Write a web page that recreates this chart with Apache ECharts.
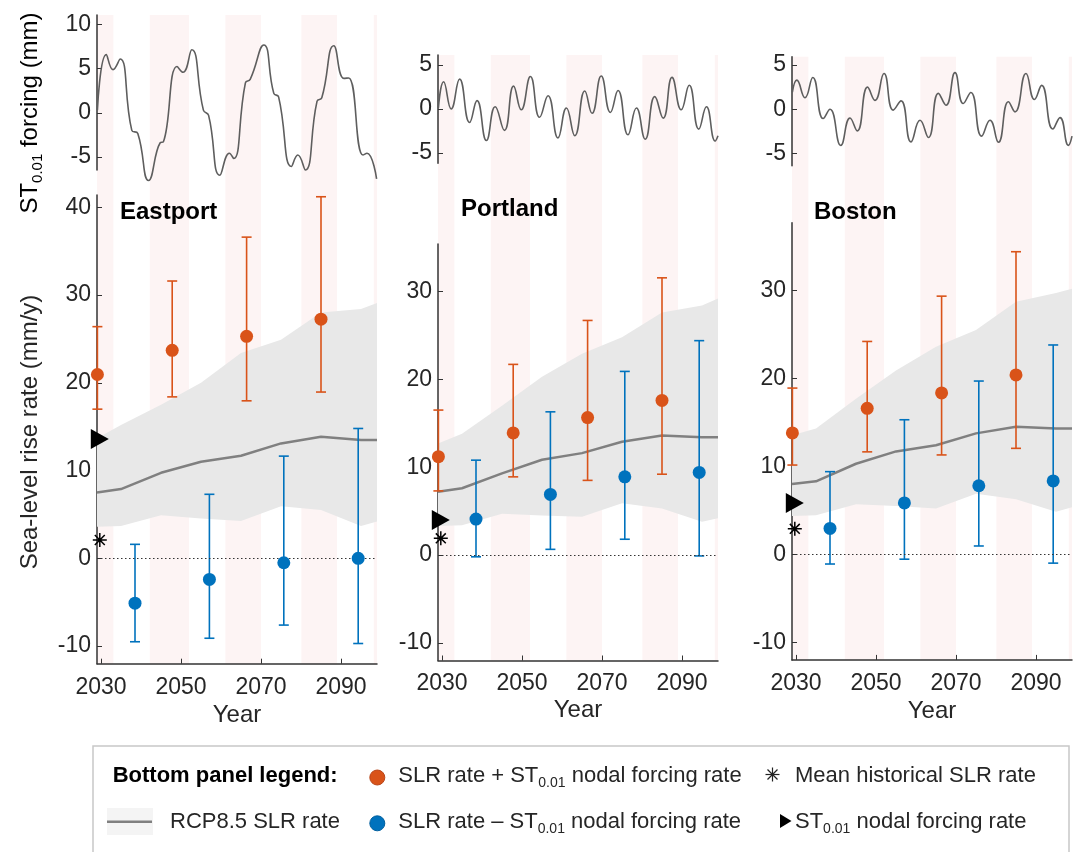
<!DOCTYPE html>
<html>
<head>
<meta charset="utf-8">
<script src="https://cdn.jsdelivr.net/npm/echarts@6/dist/echarts.min.js"></script>
<style>
html, body { margin: 0; padding: 0; background: #fff; }
#chart { width: 1084px; height: 852px; }
</style>
</head>
<body>
<div id="chart"></div>
<script>
// pink shading: half nodal cycles
const stripeSpans = [[2029, 2033.1], [2042.2, 2052], [2061.1, 2070], [2080.1, 2089], [2098.2, 2099]];
const yearTicks = [2030, 2050, 2070, 2090];
const bandYears = [2029, 2035, 2045, 2055, 2065, 2075, 2085, 2095, 2099];
const plusYears = [2029.1, 2047.8, 2066.4, 2085.0];
const minusYears = [2038.5, 2057.1, 2075.7, 2094.3];
const markerYear = 2029.7;
const siteNames = ['Eastport', 'Portland', 'Boston'];

// ---- Eastport ----
const eastportForcingYears = [2029.1, 2031.3, 2033.0, 2034.8, 2037.7, 2039.2, 2041.9, 2044.8, 2045.6, 2049.0, 2050.5, 2052.7, 2055.6, 2056.9, 2059.7, 2062.1, 2063.2, 2066.1, 2067.3, 2070.7, 2073.2, 2074.4, 2077.6, 2079.2, 2081.1, 2084.0, 2085.2, 2088.2, 2090.7, 2091.9, 2095.5, 2096.5, 2098.9];
const eastportForcing = [0.3, 6.6, 4.9, 6.1, -2.0, -2.35, -7.7, -3.4, -3.3, 5.25, 4.6, 7.15, 0.3, -0.3, -7.1, -4.6, -5.2, 3.4, 3.8, 7.7, 2.2, 1.8, -6.1, -4.8, -6.5, 1.3, 1.7, 7.6, 3.9, 3.95, -4.8, -4.6, -7.5];
const eastportRcp = [7.5, 7.9, 9.75, 11.0, 11.7, 13.1, 13.85, 13.5, 13.5];
const eastportBandHigh = [13.7, 15.2, 17.5, 20.0, 23.4, 24.9, 28.0, 28.4, 29.1];
const eastportBandLow = [3.6, 3.7, 4.9, 4.55, 4.25, 5.95, 5.5, 3.7, 4.2];
const eastportPlus = [20.95, 23.7, 25.3, 27.25];
const eastportPlusLow = [17.0, 18.4, 17.95, 18.95];
const eastportPlusHigh = [26.4, 31.6, 36.6, 41.2];
const eastportMinus = [-5.1, -2.4, -0.5, 0];
const eastportMinusLow = [-9.5, -9.1, -7.6, -9.7];
const eastportMinusHigh = [1.6, 7.3, 11.65, 14.8];
const eastportNodalRate = 13.6;
const eastportHistRate = 2.1;

// ---- Portland ----
const portlandForcingYears = [2029.1, 2030.4, 2032.3, 2034.4, 2036.9, 2038.75, 2041.1, 2043.3, 2045.6, 2047.9, 2049.8, 2052.1, 2054.4, 2056.5, 2059.0, 2061.1, 2063.2, 2065.7, 2067.5, 2069.8, 2072.1, 2074.0, 2076.5, 2078.6, 2080.8, 2083.2, 2085.3, 2087.5, 2089.8, 2091.8, 2094.2, 2096.1, 2098.3, 2099];
const portlandForcing = [0.1, 3.1, 0, 3.4, -1.55, 0.95, -3.6, 0.25, -2.45, 2.6, -0.1, 3.7, -0.95, 1.5, -3.3, 0.1, -3.05, 2.05, -0.5, 3.75, -0.4, 2.1, -2.95, 0.1, -3.45, 1.4, -1.05, 3.6, -0.1, 2.7, -2.3, 0.25, -3.65, -3.05];
const portlandRcp = [7.2, 7.6, 9.3, 10.85, 11.6, 12.9, 13.6, 13.4, 13.4];
const portlandBandHigh = [12.7, 13.8, 17.0, 20.3, 22.9, 24.8, 27.6, 28.4, 29.2];
const portlandBandLow = [3.3, 3.4, 4.7, 4.5, 4.35, 5.9, 5.3, 3.8, 4.2];
const portlandPlus = [11.2, 13.9, 15.65, 17.6];
const portlandPlusLow = [7.3, 8.9, 8.5, 9.2];
const portlandPlusHigh = [16.5, 21.7, 26.7, 31.55];
const portlandMinus = [4.1, 6.9, 8.9, 9.4];
const portlandMinusLow = [-0.2, 0.65, 1.8, -0.1];
const portlandMinusHigh = [10.8, 16.3, 20.9, 24.4];
const portlandNodalRate = 4.0;
const portlandHistRate = 1.9;

// ---- Boston ----
const bostonForcingYears = [2029.1, 2030.2, 2032.25, 2034.2, 2036.8, 2038.5, 2041.2, 2043.5, 2045.3, 2047.9, 2049.75, 2052.0, 2054.3, 2056.25, 2058.75, 2061.0, 2063.1, 2065.6, 2067.5, 2069.75, 2071.8, 2073.7, 2076.4, 2078.5, 2080.6, 2083.1, 2084.75, 2087.5, 2089.6, 2091.4, 2094.2, 2096.0, 2098.1, 2099];
const bostonForcing = [1.95, 3.3, 1.3, 3.6, -1.05, 0, -4.1, -1.0, -2.45, 2.5, 1.0, 4.05, -0.1, 0.95, -3.7, -1.25, -3.2, 1.8, 0.45, 4.15, 0.65, 1.9, -3.05, -1.25, -3.75, 0.85, -0.3, 4.05, 1.1, 2.7, -2.25, -0.95, -4.1, -3.05];
const bostonRcp = [8.0, 8.3, 10.3, 11.7, 12.4, 13.75, 14.5, 14.3, 14.3];
const bostonBandHigh = [13.55, 14.3, 17.7, 20.9, 23.6, 25.5, 28.7, 29.7, 30.2];
const bostonBandLow = [4.35, 4.45, 5.7, 5.5, 5.2, 6.9, 6.25, 4.85, 5.35];
const bostonPlus = [13.8, 16.6, 18.35, 20.4];
const bostonPlusLow = [10.15, 11.65, 11.3, 12.05];
const bostonPlusHigh = [18.9, 24.2, 29.35, 34.4];
const bostonMinus = [2.95, 5.85, 7.8, 8.35];
const bostonMinusLow = [-1.1, -0.55, 0.95, -1.0];
const bostonMinusHigh = [9.4, 15.3, 19.7, 23.8];
const bostonNodalRate = 5.85;
const bostonHistRate = 2.9;

const topTickSets = [[-5, 0, 5, 10], [-5, 0, 5], [-5, 0, 5]];
const bottomTickSets = [[-10, 0, 10, 20, 30, 40], [-10, 0, 10, 20, 30], [-10, 0, 10, 20, 30]];

const sites = [
  { fYears: eastportForcingYears, f: eastportForcing, rcp: eastportRcp, hi: eastportBandHigh, lo: eastportBandLow,
    plus: eastportPlus, plusLo: eastportPlusLow, plusHi: eastportPlusHigh,
    minus: eastportMinus, minusLo: eastportMinusLow, minusHi: eastportMinusHigh,
    nodal: eastportNodalRate, hist: eastportHistRate },
  { fYears: portlandForcingYears, f: portlandForcing, rcp: portlandRcp, hi: portlandBandHigh, lo: portlandBandLow,
    plus: portlandPlus, plusLo: portlandPlusLow, plusHi: portlandPlusHigh,
    minus: portlandMinus, minusLo: portlandMinusLow, minusHi: portlandMinusHigh,
    nodal: portlandNodalRate, hist: portlandHistRate },
  { fYears: bostonForcingYears, f: bostonForcing, rcp: bostonRcp, hi: bostonBandHigh, lo: bostonBandLow,
    plus: bostonPlus, plusLo: bostonPlusLow, plusHi: bostonPlusHigh,
    minus: bostonMinus, minusLo: bostonMinusLow, minusHi: bostonMinusHigh,
    nodal: bostonNodalRate, hist: bostonHistRate }
];

// panel geometry (pixels) and axis ranges
const layout = [
  { left: 97,  topT: 15,   topH: 155,   topMin: -6.5, topMax: 11.1, botT: 195,   botH: 468.7, botMax: 41.4, titleX: 120, titleY: 212 },
  { left: 438, topT: 55,   topH: 108.3, topMin: -6.2, topMax: 6.15, botT: 244,   botH: 416.5, botMax: 35.4, titleX: 461, titleY: 209 },
  { left: 792, topT: 56.7, topH: 109,   topMin: -6.4, topMax: 5.95, botT: 222.7, botH: 437.2, botMax: 37.7, titleX: 814, titleY: 212 }
];
const panelWidth = 280;

const FONT = "'Liberation Sans', Arial, sans-serif";
const ORANGE = '#d95319';
const BLUE = '#0072bd';
const AXIS = '#333333';
const TXT = '#262626';
const PINK = '#fdf4f4';
const BAND = '#e8e8e8';
const ASTERISK = 'path://M10,0L10,20M0,10L20,10M2.9,2.9L17.1,17.1M2.9,17.1L17.1,2.9';

const grid = [], xAxis = [], yAxis = [], series = [];

function errorBars(axisIdx, years, lo, hi, color) {
  return {
    type: 'custom', xAxisIndex: axisIdx, yAxisIndex: axisIdx, z: 4, silent: true,
    data: years.map((y, i) => [y, lo[i], hi[i]]),
    encode: { x: 0, y: [1, 2] },
    renderItem: function (params, api) {
      const x = api.value(0);
      const top = api.coord([x, api.value(2)]);
      const bot = api.coord([x, api.value(1)]);
      const w = 5;
      const st = { stroke: color, lineWidth: 1.6 };
      return { type: 'group', children: [
        { type: 'line', shape: { x1: top[0], y1: top[1], x2: bot[0], y2: bot[1] }, style: st },
        { type: 'line', shape: { x1: top[0] - w, y1: top[1], x2: top[0] + w, y2: top[1] }, style: st },
        { type: 'line', shape: { x1: bot[0] - w, y1: bot[1], x2: bot[0] + w, y2: bot[1] }, style: st }
      ] };
    }
  };
}

// RCP8.5 range band, one polygon built from the whole band arrays
function bandSeries(axisIdx, years, lo, hi) {
  return {
    type: 'custom', xAxisIndex: axisIdx, yAxisIndex: axisIdx, z: 2, silent: true,
    data: years.map((y, i) => [y, lo[i], hi[i]]),
    encode: { x: 0, y: [1, 2] },
    renderItem: function (params, api) {
      if (params.dataIndex !== 0) return null;
      const pts = [];
      years.forEach((y, i) => pts.push(api.coord([y, hi[i]])));
      for (let i = years.length - 1; i >= 0; i--) pts.push(api.coord([years[i], lo[i]]));
      return { type: 'polygon', shape: { points: pts }, style: { fill: BAND } };
    }
  };
}

sites.forEach(function (s, i) {
  const L = layout[i];
  const bg = i * 3, top = i * 3 + 1, bot = i * 3 + 2;

  // background grid spanning the whole column (pink stripes)
  grid.push({ left: L.left, top: L.topT, width: panelWidth, height: L.botT + L.botH - L.topT });
  xAxis.push({ gridIndex: bg, type: 'value', min: 2029, max: 2099, show: false });
  yAxis.push({ gridIndex: bg, type: 'value', min: 0, max: 1, show: false });
  series.push({
    type: 'custom', xAxisIndex: bg, yAxisIndex: bg, z: 0, silent: true,
    data: stripeSpans,
    encode: { x: [0, 1] },
    renderItem: function (params, api) {
      const p1 = api.coord([api.value(0), 1]);
      const p2 = api.coord([api.value(1), 0]);
      return { type: 'rect', shape: { x: p1[0], y: p1[1], width: p2[0] - p1[0], height: p2[1] - p1[1] }, style: { fill: PINK } };
    }
  });

  // top panel: forcing
  grid.push({ left: L.left, top: L.topT, width: panelWidth, height: L.topH });
  xAxis.push({ gridIndex: top, type: 'value', min: 2029, max: 2099, show: false });
  yAxis.push({
    gridIndex: top, type: 'value', min: L.topMin, max: L.topMax,
    axisLine: { show: true, lineStyle: { color: AXIS, width: 1.5 } },
    axisTick: { show: true, inside: true, length: 5, lineStyle: { color: AXIS }, customValues: topTickSets[i] },
    axisLabel: { customValues: topTickSets[i], fontSize: 23, color: TXT, fontFamily: FONT, margin: 6 },
    splitLine: { show: false }
  });
  series.push({
    type: 'line', xAxisIndex: top, yAxisIndex: top, z: 3, silent: true, clip: false,
    data: s.fYears.map((y, k) => [y, s.f[k]]),
    smooth: 0.5, symbol: 'none',
    lineStyle: { color: '#5e5e5e', width: 1.6 }
  });

  // bottom panel: rates
  grid.push({ left: L.left, top: L.botT, width: panelWidth, height: L.botH });
  xAxis.push({
    gridIndex: bot, type: 'value', min: 2029, max: 2099,
    name: 'Year', nameLocation: 'middle', nameGap: 38,
    nameTextStyle: { fontSize: 24, color: TXT, fontFamily: FONT },
    axisLine: { show: true, onZero: false, lineStyle: { color: AXIS, width: 1.5 } },
    axisTick: { show: true, inside: true, length: 5, lineStyle: { color: AXIS }, customValues: yearTicks },
    axisLabel: { customValues: yearTicks, fontSize: 23, color: TXT, fontFamily: FONT, margin: 12,
      formatter: function (v) { return String(v); } },
    splitLine: { show: false }
  });
  yAxis.push({
    gridIndex: bot, type: 'value', min: -12, max: L.botMax,
    axisLine: { show: true, lineStyle: { color: AXIS, width: 1.5 } },
    axisTick: { show: true, inside: true, length: 5, lineStyle: { color: AXIS }, customValues: bottomTickSets[i] },
    axisLabel: { customValues: bottomTickSets[i], fontSize: 23, color: TXT, fontFamily: FONT, margin: 6 },
    splitLine: { show: false }
  });

  series.push(bandSeries(bot, bandYears, s.lo, s.hi));
  series.push({
    type: 'line', xAxisIndex: bot, yAxisIndex: bot, z: 3, silent: true,
    data: bandYears.map((y, k) => [y, s.rcp[k]]),
    symbol: 'none', lineStyle: { color: '#808080', width: 2.5 },
    markLine: {
      silent: true, symbol: ['none', 'none'], label: { show: false },
      lineStyle: { type: [1.5, 2.5], color: '#333', width: 1 },
      data: [{ yAxis: 0 }]
    }
  });
  series.push(errorBars(bot, plusYears, s.plusLo, s.plusHi, ORANGE));
  series.push(errorBars(bot, minusYears, s.minusLo, s.minusHi, BLUE));
  series.push({
    type: 'scatter', xAxisIndex: bot, yAxisIndex: bot, z: 5, silent: true, clip: false,
    data: plusYears.map((y, k) => [y, s.plus[k]]),
    symbolSize: 13, itemStyle: { color: ORANGE, opacity: 1 }
  });
  series.push({
    type: 'scatter', xAxisIndex: bot, yAxisIndex: bot, z: 5, silent: true, clip: false,
    data: minusYears.map((y, k) => [y, s.minus[k]]),
    symbolSize: 13, itemStyle: { color: BLUE, opacity: 1 }
  });
  series.push({
    type: 'scatter', xAxisIndex: bot, yAxisIndex: bot, z: 6, silent: true, clip: false,
    data: [[markerYear, s.nodal]],
    symbol: 'triangle', symbolRotate: -90, symbolSize: [20, 18],
    itemStyle: { color: '#000', opacity: 1 }
  });
  series.push({
    type: 'scatter', xAxisIndex: bot, yAxisIndex: bot, z: 6, silent: true, clip: false,
    data: [[markerYear, s.hist]],
    symbol: ASTERISK, symbolSize: 14,
    itemStyle: { color: 'none', borderColor: '#000', borderWidth: 1.5, opacity: 1 }
  });
});

const subRich = {
  m: { fontSize: 22, fontFamily: FONT, color: TXT, verticalAlign: 'middle' },
  s: { fontSize: 14, fontFamily: FONT, color: TXT, verticalAlign: 'middle', padding: [15, 0, 0, 0] }
};
const subRichBig = {
  m: { fontSize: 24, fontFamily: FONT, color: TXT, verticalAlign: 'middle' },
  s: { fontSize: 15, fontFamily: FONT, color: TXT, verticalAlign: 'middle', padding: [16, 0, 0, 0] }
};

function legendText(x, y, text) {
  return { type: 'text', x: x, y: y, z: 20, style: { text: text, rich: subRich, fontSize: 22, fontFamily: FONT, fill: TXT, align: 'left', verticalAlign: 'middle' } };
}

const starStyle = { stroke: '#222', lineWidth: 1.2 };
const graphic = [
  // y axis titles
  { type: 'text', x: 30, y: 113, rotation: Math.PI / 2, z: 20,
    style: { text: '{m|ST}{s|0.01}{m| forcing (mm)}', rich: subRichBig, align: 'center', verticalAlign: 'middle' } },
  { type: 'text', x: 30, y: 432, rotation: Math.PI / 2, z: 20,
    style: { text: 'Sea-level rise rate (mm/y)', fontSize: 24, fontFamily: FONT, fill: TXT, align: 'center', verticalAlign: 'middle' } },
  // legend box
  { type: 'rect', shape: { x: 93, y: 746, width: 976, height: 130 }, z: 15,
    style: { fill: '#fff', stroke: '#c8c8c8', lineWidth: 1.5 } },
  { type: 'text', x: 112.7, y: 776, z: 20,
    style: { text: 'Bottom panel legend:', fontSize: 22, fontWeight: 'bold', fontFamily: FONT, fill: '#000', align: 'left', verticalAlign: 'middle' } },
  { type: 'circle', shape: { cx: 377.3, cy: 777.5, r: 7.5 }, z: 20, style: { fill: ORANGE, stroke: '#b8461a', lineWidth: 1 } },
  legendText(398.3, 776, '{m|SLR rate + ST}{s|0.01}{m| nodal forcing rate}'),
  { type: 'rect', shape: { x: 107, y: 808, width: 46, height: 27 }, z: 20, style: { fill: '#f4f4f4' } },
  { type: 'line', shape: { x1: 107, y1: 821.7, x2: 152, y2: 821.7 }, z: 21, style: { stroke: '#808080', lineWidth: 2.5 } },
  legendText(170, 822, '{m|RCP8.5 SLR rate}'),
  { type: 'circle', shape: { cx: 377.3, cy: 823.3, r: 7.5 }, z: 20, style: { fill: BLUE, stroke: '#005f9e', lineWidth: 1 } },
  legendText(398.3, 822, '{m|SLR rate – ST}{s|0.01}{m| nodal forcing rate}'),
  { type: 'line', z: 21, shape: { x1: 772.5, y1: 767.5, x2: 772.5, y2: 781.5 }, style: starStyle },
  { type: 'line', z: 21, shape: { x1: 765.5, y1: 774.5, x2: 779.5, y2: 774.5 }, style: starStyle },
  { type: 'line', z: 21, shape: { x1: 767.5, y1: 769.5, x2: 777.5, y2: 779.5 }, style: starStyle },
  { type: 'line', z: 21, shape: { x1: 767.5, y1: 779.5, x2: 777.5, y2: 769.5 }, style: starStyle },
  legendText(795, 776, '{m|Mean historical SLR rate}'),
  { type: 'polygon', shape: { points: [[780, 814], [791.5, 821], [780, 828]] }, z: 20, style: { fill: '#000' } },
  legendText(795, 822, '{m|ST}{s|0.01}{m| nodal forcing rate}')
];

siteNames.forEach(function (name, i) {
  graphic.push({ type: 'text', x: layout[i].titleX, y: layout[i].titleY, z: 20,
    style: { text: name, fontSize: 24, fontWeight: 'bold', fontFamily: FONT, fill: '#000', align: 'left', verticalAlign: 'middle' } });
});

const chart = echarts.init(document.getElementById('chart'), null, { renderer: 'canvas' });
chart.setOption({
  animation: false,
  backgroundColor: '#fff',
  textStyle: { fontFamily: FONT },
  grid: grid,
  xAxis: xAxis,
  yAxis: yAxis,
  series: series,
  graphic: graphic
});
</script>
</body>
</html>
